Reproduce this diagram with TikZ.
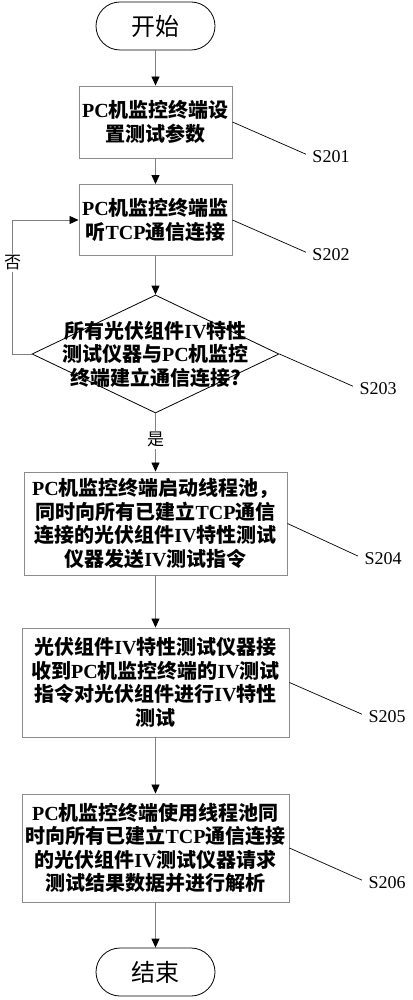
\documentclass[tikz,border=0pt]{standalone}
\usepackage{fontspec}
\setmainfont{Liberation Serif}
\newfontfamily\cjk{Noto Sans CJK SC}
\usetikzlibrary{shapes.geometric,arrows.meta}
\newcommand\lt[1]{{\rmfamily\bfseries #1}}

\begin{document}
\begin{tikzpicture}[
  x=1pt, y=-1pt,
  term/.style={rectangle, rounded corners=24pt, draw=black, line width=0.8pt,
               minimum width=119pt, minimum height=48pt, inner sep=0pt,
               font=\cjk\fontsize{24}{28}\selectfont},
  box/.style={rectangle, draw=black!45, line width=0.9pt, align=center, inner sep=0pt,
              font=\cjk\bfseries\fontsize{20}{23.5}\selectfont},
  dec/.style={diamond, draw=black, line width=0.8pt, minimum width=247pt,
              minimum height=118pt, inner sep=0pt},
  dtxt/.style={align=center, inner sep=0pt, font=\cjk\bfseries\fontsize{20}{23.5}\selectfont},
  step lab/.style={inner sep=0pt, font=\fontsize{18}{20}\selectfont},
  lead/.style={draw=black, line width=0.7pt, shorten >=7pt},
  arr/.style={-{Triangle[length=9pt, width=8pt, color=black]}, draw=black!50, line width=0.8pt},
  lab/.style={fill=white, inner sep=1.5pt, font=\cjk\fontsize{17}{19}\selectfont}
]
\useasboundingbox (0,0) rectangle (412,1000);

%% start / end
\node[term] (st) at (155.5, 26) {开始};
\node[term] (en) at (155.5, 972) {结束};

%% steps
\node[box, minimum width=153pt, minimum height=72pt] (b1) at (155.5, 122)
  {\lt{PC}机监控终端设\\置测试参数};
\node[box, minimum width=153pt, minimum height=71pt] (b2) at (155.5, 220)
  {\lt{PC}机监控终端监\\听\lt{TCP}通信连接};
\node[dec] (d) at (155.5, 354) {};
\node[dtxt] (dt) at (d.center)
  {所有光伏组件\lt{IV}特性\\测试仪器与\lt{PC}机监控\\终端建立通信连接?};
\node[box, minimum width=263pt, minimum height=103pt] (b3) at (155.5, 523.5)
  {\lt{PC}机监控终端启动线程池，\\同时向所有已建立\lt{TCP}通信\\连接的光伏组件\lt{IV}特性测试\\仪器发送\lt{IV}测试指令};
\node[box, minimum width=267pt, minimum height=109pt] (b4) at (155.5, 682.5)
  {光伏组件\lt{IV}特性测试仪器接\\收到\lt{PC}机监控终端的\lt{IV}测试\\指令对光伏组件进行\lt{IV}特性\\测试};
\node[box, minimum width=267pt, minimum height=108pt] (b5) at (155.5, 848)
  {\lt{PC}机监控终端使用线程池同\\时向所有已建立\lt{TCP}通信连接\\的光伏组件\lt{IV}测试仪器请求\\测试结果数据并进行解析};

%% step numbers
\node[step lab] (s1) at (331, 157) {S201};
\node[step lab] (s2) at (331, 255) {S202};
\node[step lab] (s3) at (378, 389) {S203};
\node[step lab] (s4) at (383, 559) {S204};
\node[step lab] (s5) at (387, 717) {S205};
\node[step lab] (s6) at (387, 883) {S206};

\draw[lead] (b1.east) -- (s1.west);
\draw[lead] (b2.east) -- (s2.west);
\draw[lead] (d.east) -- (s3.west);
\draw[lead] (b3.east) -- (s4.west);
\draw[lead] (b4.east) -- (s5.west);
\draw[lead] (b5.east) -- (s6.west);

%% flow
\draw[arr] (st) -- (b1);
\draw[arr] (b1) -- (b2);
\draw[arr] (b2) -- (d);
\draw[arr] (d.south) -- node[lab, pos=0.45] (yes) {是} (b3);
\draw[arr] (d.west) -- ++(-19, 0) |- node[lab, pos=0.34] (no) {否} (b2.west);
\draw[arr] (b3) -- (b4);
\draw[arr] (b4) -- (b5);
\draw[arr] (b5) -- (en);
\end{tikzpicture}
\end{document}
